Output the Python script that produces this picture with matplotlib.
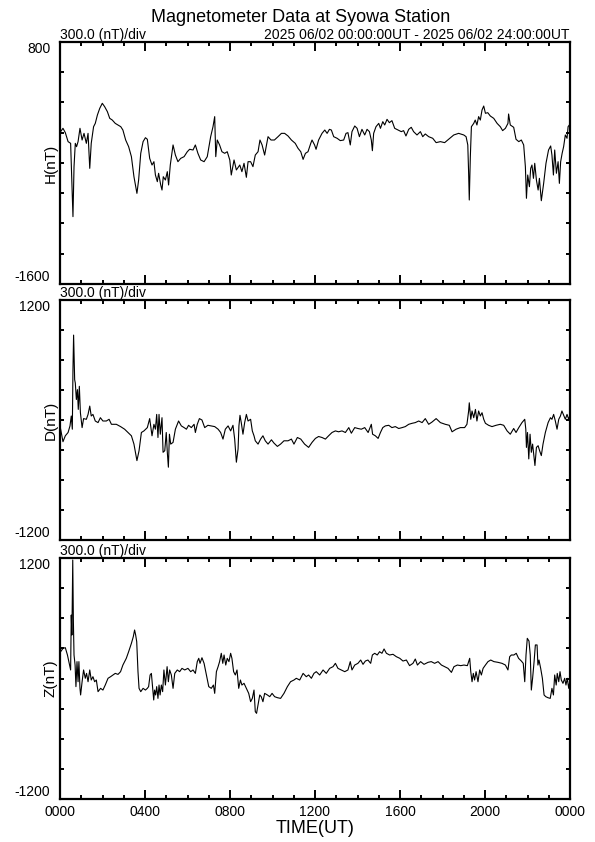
import matplotlib
matplotlib.use("Agg")
import matplotlib.pyplot as plt
from matplotlib.ticker import MultipleLocator

plt.rcParams['font.family'] = ['Liberation Sans', 'DejaVu Sans']

# (hour UT, nT)
h_points = [
    (0.03, -89), (0.14, -56), (0.25, -99), (0.38, -188), (0.50, -205), (0.56, -618), (0.61, -932),
    (0.66, -436), (0.72, -205), (0.78, -238), (0.85, -188), (0.94, -56), (1.04, -172), (1.13, -106),
    (1.24, -205), (1.32, -106), (1.40, -453), (1.47, -205), (1.58, -40), (1.66, -7), (1.76, 76),
    (1.87, 142), (1.99, 192), (2.10, 159), (2.23, 109), (2.34, 43), (2.46, 26), (2.60, -7),
    (2.73, -23), (2.86, -40), (2.96, -73), (3.09, -172), (3.23, -238), (3.36, -337), (3.48, -536),
    (3.62, -701), (3.70, -569), (3.80, -304), (3.91, -188), (4.02, -149), (4.11, -165), (4.22, -354),
    (4.33, -420), (4.42, -387), (4.49, -519), (4.58, -585), (4.64, -502), (4.74, -618), (4.80, -668),
    (4.86, -536), (4.96, -569), (5.05, -486), (5.11, -618), (5.19, -420), (5.32, -221), (5.43, -321),
    (5.55, -387), (5.68, -354), (5.84, -337), (5.99, -288), (6.10, -264), (6.26, -271), (6.37, -221),
    (6.49, -304), (6.62, -370), (6.78, -387), (6.93, -337), (7.09, -139), (7.20, -40), (7.28, 60),
    (7.33, -337), (7.40, -172), (7.51, -221), (7.62, -288), (7.75, -304), (7.87, -288), (7.99, -370),
    (8.06, -519), (8.19, -370), (8.30, -469), (8.46, -420), (8.56, -486), (8.66, -403), (8.77, -542),
    (8.85, -387), (8.97, -387), (9.08, -436), (9.19, -321), (9.32, -288), (9.41, -172), (9.51, -221),
    (9.63, -321), (9.79, -139), (9.93, -172), (10.09, -172), (10.26, -139), (10.42, -106),
    (10.57, -106), (10.73, -132), (10.89, -172), (11.07, -205), (11.20, -254), (11.33, -288),
    (11.44, -364), (11.55, -304), (11.67, -288), (11.80, -205), (11.86, -172), (11.98, -221),
    (12.05, -264), (12.17, -172), (12.33, -106), (12.46, -73), (12.57, -106), (12.68, -66),
    (12.77, -73), (12.88, -139), (13.04, -155), (13.19, -178), (13.35, -172), (13.46, -106),
    (13.55, -99), (13.66, -221), (13.74, -89), (13.87, -33), (13.98, -56), (14.09, -139),
    (14.21, -66), (14.34, -122), (14.45, -66), (14.56, -89), (14.65, -172), (14.70, -278),
    (14.76, -106), (14.87, -40), (15.00, -7), (15.08, -56), (15.19, 10), (15.28, -23), (15.39, 33),
    (15.50, 0), (15.62, 20), (15.75, -56), (15.91, -73), (16.06, -89), (16.17, -79), (16.28, -132),
    (16.41, -66), (16.53, -46), (16.64, -89), (16.80, -122), (16.96, -89), (17.07, -139),
    (17.19, -112), (17.35, -139), (17.54, -155), (17.70, -198), (17.90, -188), (18.10, -198),
    (18.29, -165), (18.53, -122), (18.76, -106), (19.00, -122), (19.11, -139), (19.19, -221),
    (19.23, -502), (19.26, -767), (19.31, -337), (19.36, -40), (19.47, -7), (19.54, 26),
    (19.62, -23), (19.70, 60), (19.78, 26), (19.86, 126), (19.94, 165), (20.02, 93), (20.13, 99),
    (20.25, 66), (20.41, 43), (20.57, -7), (20.72, -40), (20.83, -79), (20.96, -56), (21.08, -7),
    (21.11, 86), (21.19, -23), (21.35, -46), (21.46, -165), (21.59, -188), (21.71, -172),
    (21.82, -221), (21.90, -436), (21.95, -750), (22.01, -519), (22.09, -635), (22.15, -453),
    (22.21, -420), (22.28, -552), (22.34, -403), (22.42, -569), (22.50, -668), (22.56, -552),
    (22.65, -774), (22.76, -602), (22.87, -403), (22.99, -271), (23.09, -231), (23.15, -321),
    (23.22, -519), (23.28, -271), (23.36, -502), (23.44, -387), (23.50, -602), (23.56, -387),
    (23.63, -304), (23.70, -238), (23.78, -122), (23.86, -155), (23.91, -40), (23.97, -23),
]

d_points = [
    (0.03, -92), (0.14, -217), (0.25, -158), (0.38, -125), (0.47, -59), (0.53, 40), (0.58, -92),
    (0.61, 502), (0.64, 849), (0.69, 403), (0.72, 370), (0.77, 205), (0.82, 304), (0.86, 106),
    (0.91, 337), (0.96, 73), (1.04, -76), (1.11, 14), (1.24, 7), (1.32, 56), (1.40, 139), (1.47, 40),
    (1.55, 56), (1.66, -10), (1.79, -26), (1.90, 23), (2.02, -10), (2.18, -10), (2.31, 7),
    (2.42, -43), (2.65, -43), (2.85, -66), (3.04, -92), (3.20, -125), (3.36, -158), (3.48, -241),
    (3.62, -406), (3.72, -307), (3.83, -125), (3.95, -109), (4.11, -76), (4.22, 14), (4.33, -158),
    (4.42, -43), (4.49, -92), (4.55, 56), (4.61, -175), (4.66, 56), (4.72, -142), (4.80, 23),
    (4.85, -323), (4.93, -307), (5.00, -125), (5.05, -323), (5.10, -472), (5.15, -142),
    (5.21, -241), (5.32, -224), (5.43, -92), (5.58, -10), (5.71, -59), (5.84, -76), (5.95, -92),
    (6.05, -53), (6.18, -76), (6.31, -43), (6.37, -125), (6.46, -43), (6.56, 14), (6.68, 0),
    (6.81, -76), (6.96, -53), (7.12, -59), (7.28, -66), (7.44, -92), (7.56, -125), (7.67, -191),
    (7.78, -92), (7.91, -59), (8.03, -109), (8.14, -53), (8.22, -191), (8.30, -422), (8.38, -290),
    (8.42, -59), (8.47, 47), (8.53, -26), (8.61, -142), (8.69, -26), (8.77, 56), (8.85, -10),
    (8.97, 7), (9.05, -109), (9.13, -158), (9.19, -208), (9.32, -241), (9.44, -191), (9.55, -158),
    (9.66, -208), (9.79, -241), (9.95, -198), (10.07, -231), (10.23, -264), (10.38, -241),
    (10.54, -208), (10.73, -208), (10.89, -191), (11.01, -241), (11.17, -175), (11.33, -191),
    (11.51, -241), (11.70, -274), (11.86, -224), (12.02, -184), (12.17, -165), (12.33, -175),
    (12.49, -191), (12.64, -158), (12.80, -125), (12.96, -109), (13.11, -118), (13.27, -109),
    (13.43, -125), (13.59, -76), (13.71, -132), (13.87, -76), (14.02, -85), (14.18, -92),
    (14.34, -76), (14.50, -125), (14.65, -43), (14.71, -142), (14.84, -158), (14.97, -184),
    (15.08, -125), (15.19, -76), (15.31, -59), (15.47, -53), (15.62, -76), (15.78, -66),
    (15.94, -85), (16.10, -76), (16.25, -66), (16.41, -43), (16.57, -33), (16.72, -26),
    (16.88, -10), (17.04, -26), (17.19, 14), (17.35, -43), (17.51, -20), (17.70, 14), (17.90, -26),
    (18.13, -43), (18.32, -53), (18.45, -118), (18.64, -92), (18.84, -76), (19.04, -76),
    (19.15, -43), (19.23, 90), (19.26, 172), (19.33, 7), (19.39, 90), (19.47, 23), (19.55, 106),
    (19.62, -10), (19.70, 90), (19.78, 40), (19.86, 73), (19.94, 7), (20.02, -33), (20.17, -53),
    (20.33, -66), (20.52, -53), (20.72, -43), (20.88, -53), (21.04, -109), (21.19, -142),
    (21.35, -85), (21.46, -125), (21.59, -76), (21.74, -26), (21.87, 7), (21.92, -92),
    (21.95, -274), (22.00, -125), (22.06, -389), (22.12, -142), (22.18, -323), (22.24, -241),
    (22.31, -373), (22.35, -455), (22.42, -274), (22.50, -257), (22.57, -307), (22.65, -356),
    (22.73, -241), (22.84, -125), (22.97, -26), (23.08, 23), (23.15, 7), (23.23, 56), (23.31, -10),
    (23.39, -92), (23.47, 7), (23.55, 40), (23.62, 90), (23.70, 47), (23.78, 7), (23.86, 56),
    (23.94, 7), (24.00, 47),
]

z_points = [
    (0.03, 267), (0.14, 300), (0.25, 307), (0.35, 234), (0.45, 134), (0.50, 85), (0.53, 632),
    (0.56, 433), (0.60, 1180), (0.63, 566), (0.66, 234), (0.71, 134), (0.75, -81), (0.80, 168),
    (0.85, -32), (0.89, 168), (0.94, -98), (0.97, -164), (1.04, -32), (1.11, 85), (1.19, 2),
    (1.25, 51), (1.32, -32), (1.40, 85), (1.47, -15), (1.55, 18), (1.63, -32), (1.71, -15),
    (1.79, -131), (1.91, -98), (2.02, -115), (2.13, -65), (2.26, 2), (2.38, 18), (2.49, 35),
    (2.60, 51), (2.73, 41), (2.85, 68), (2.96, 134), (3.12, 201), (3.23, 267), (3.36, 350),
    (3.45, 417), (3.51, 483), (3.56, 433), (3.61, 367), (3.67, 68), (3.72, -98), (3.80, -131),
    (3.91, -98), (4.02, -115), (4.11, -98), (4.17, -81), (4.24, 35), (4.30, 51), (4.36, -98),
    (4.41, -214), (4.45, -115), (4.50, -164), (4.55, -81), (4.61, -198), (4.66, -65), (4.71, -164),
    (4.77, -65), (4.83, -131), (4.89, 85), (4.96, -65), (5.04, 118), (5.10, -32), (5.16, 85),
    (5.24, 35), (5.32, -98), (5.40, 51), (5.52, 85), (5.63, 68), (5.74, 101), (5.87, 85),
    (6.02, 101), (6.15, 68), (6.26, 85), (6.37, 51), (6.46, 168), (6.53, 201), (6.59, 151),
    (6.68, 207), (6.78, 151), (6.89, 35), (7.00, -81), (7.12, -98), (7.22, -65), (7.28, -148),
    (7.36, 68), (7.44, 118), (7.51, 168), (7.59, 251), (7.66, 151), (7.72, 234), (7.80, 134),
    (7.87, 201), (7.95, 168), (8.03, 251), (8.09, 201), (8.17, 68), (8.25, 35), (8.33, 85),
    (8.41, -98), (8.49, -15), (8.56, -65), (8.66, -48), (8.77, -98), (8.88, -148), (8.97, -231),
    (9.05, -198), (9.13, -115), (9.19, -330), (9.25, -347), (9.32, -264), (9.40, -164),
    (9.47, -181), (9.55, -231), (9.63, -148), (9.76, -164), (9.87, -181), (9.98, -148),
    (10.10, -181), (10.23, -191), (10.38, -198), (10.54, -148), (10.70, -81), (10.85, -32),
    (11.01, -15), (11.12, 2), (11.28, -15), (11.44, 51), (11.59, 18), (11.70, 35), (11.83, 2),
    (11.95, 51), (12.06, 68), (12.22, 35), (12.38, 85), (12.53, 51), (12.69, 101), (12.85, 118),
    (12.96, 151), (13.08, 101), (13.24, 85), (13.40, 68), (13.55, 85), (13.66, 168), (13.74, 85),
    (13.87, 134), (14.02, 151), (14.15, 184), (14.26, 141), (14.37, 174), (14.49, 184),
    (14.62, 151), (14.70, 234), (14.81, 251), (14.93, 234), (15.04, 267), (15.15, 251),
    (15.25, 294), (15.36, 251), (15.51, 234), (15.67, 241), (15.83, 217), (15.99, 201),
    (16.14, 174), (16.30, 184), (16.45, 128), (16.61, 151), (16.72, 194), (16.82, 134),
    (16.97, 168), (17.13, 141), (17.32, 161), (17.47, 168), (17.63, 151), (17.79, 168),
    (17.95, 134), (18.10, 118), (18.26, 101), (18.42, 61), (18.54, 118), (18.70, 134),
    (18.86, 128), (19.01, 134), (19.17, 128), (19.28, 201), (19.33, 68), (19.39, -32), (19.45, 51),
    (19.51, -15), (19.58, 68), (19.67, -32), (19.75, 85), (19.83, 35), (19.91, 101), (20.02, 134),
    (20.14, 168), (20.27, 184), (20.42, 168), (20.61, 161), (20.80, 151), (20.96, 134),
    (21.08, 85), (21.16, 217), (21.24, 234), (21.36, 234), (21.47, 251), (21.58, 201), (21.71, 174),
    (21.80, 151), (21.87, -32), (21.93, 234), (21.99, 400), (22.07, 373), (22.13, 234),
    (22.18, -115), (22.24, 2), (22.31, 168), (22.37, 334), (22.45, 334), (22.49, 134), (22.54, 184),
    (22.62, 101), (22.70, 2), (22.78, -164), (22.86, -181), (22.96, -191), (23.07, -198),
    (23.15, -98), (23.22, -164), (23.28, 35), (23.35, -65), (23.40, 51), (23.47, -32), (23.53, 68),
    (23.59, -15), (23.67, -48), (23.75, 2), (23.81, -65), (23.87, 2), (23.94, -98), (24.00, -15),
]

components = ["H(nT)", "D(nT)", "Z(nT)"]
y_ranges = [(-1600, 800), (-1200, 1200), (-1200, 1200)]
time_labels = ["0000", "0400", "0800", "1200", "1600", "2000", "0000"]
div_label = "300.0 (nT)/div"
period_label = "2025 06/02 00:00:00UT - 2025 06/02 24:00:00UT"

W, H = 595, 842
fig = plt.figure(figsize=(W / 100, H / 100), dpi=100)

# panel extents in pixels (top, bottom)
panel_px = [(42, 284), (300, 540), (558, 799)]
left_px, right_px = 60, 570

for i, (name, pts, (ymin, ymax), (top, bot)) in enumerate(
        zip(components, [h_points, d_points, z_points], y_ranges, panel_px)):
    ax = fig.add_axes([left_px / W, 1 - bot / H, (right_px - left_px) / W, (bot - top) / H])
    t = [p[0] for p in pts]
    v = [p[1] for p in pts]
    ax.plot(t, v, color='black', lw=0.8)

    ax.set_xlim(0, 24)
    ax.set_ylim(ymin, ymax)
    for s in ax.spines.values():
        s.set_linewidth(1.6)

    ax.xaxis.set_major_locator(MultipleLocator(4))
    ax.xaxis.set_minor_locator(MultipleLocator(1))
    ax.tick_params(axis='x', which='major', direction='in', top=True, bottom=True,
                   length=6.5, width=1.4, labelsize=10, pad=4)
    ax.tick_params(axis='x', which='minor', direction='in', top=True, bottom=True,
                   length=3, width=1.4)
    if i == 2:
        ax.set_xticks(range(0, 25, 4), time_labels)
        ax.set_xlabel("TIME(UT)", fontsize=13, labelpad=1)
    else:
        ax.set_xticklabels([])

    yt = list(range(ymin, ymax + 1, 300))
    ylabs = [''] * len(yt)
    ylabs[0] = str(ymin)
    ylabs[-1] = str(ymax)
    ax.set_yticks(yt, ylabs)
    ax.tick_params(axis='y', direction='in', left=True, right=True,
                   length=3, width=1.4, labelsize=10, pad=7)
    tl = ax.get_yticklabels()
    tl[0].set_verticalalignment('bottom')
    tl[-1].set_verticalalignment('top')

    ax.text(-0.019, 0.5, name, transform=ax.transAxes, rotation=90,
            ha='center', va='center', fontsize=11)
    ax.annotate(div_label, xy=(0, 1), xycoords='axes fraction', xytext=(0, 2),
                textcoords='offset points', ha='left', va='baseline', fontsize=10)
    if i == 0:
        ax.annotate(period_label, xy=(1, 1), xycoords='axes fraction', xytext=(0, 2),
                    textcoords='offset points', ha='right', va='baseline', fontsize=10)

fig.text(0.505, 1 - 17 / H, "Magnetometer Data at Syowa Station", ha='center', va='center',
         fontsize=13)

fig.savefig("out.png", dpi=100)
